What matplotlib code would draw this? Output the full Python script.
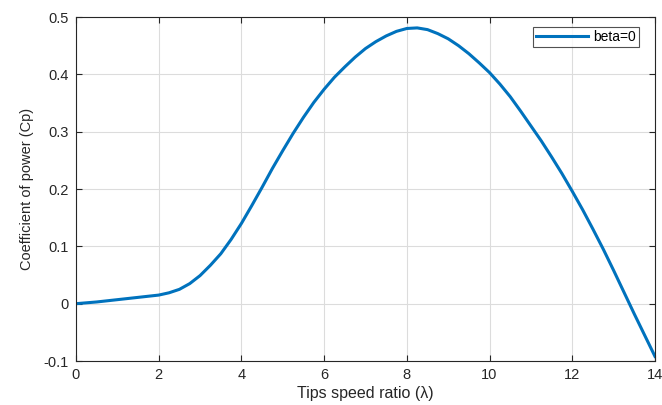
import matplotlib
matplotlib.use("Agg")
import matplotlib.pyplot as plt

plt.rcParams["font.family"] = ["Liberation Sans", "DejaVu Sans"]

# Cp vs tip speed ratio, pitch angle beta = 0
tsr = [0.0, 0.5, 1.0, 1.5, 2.0, 2.25, 2.5, 2.75, 3.0, 3.25, 3.5, 3.75,
       4.0, 4.25, 4.5, 4.75, 5.0, 5.25, 5.5, 5.75, 6.0, 6.25, 6.5, 6.75,
       7.0, 7.25, 7.5, 7.75, 8.0, 8.25, 8.5, 8.75, 9.0, 9.25, 9.5, 9.75,
       10.0, 10.25, 10.5, 10.75, 11.0, 11.25, 11.5, 11.75, 12.0, 12.25,
       12.5, 12.75, 13.0, 13.25, 13.5, 13.75, 14.0]
cp = [0.000, 0.003, 0.007, 0.011, 0.015, 0.019, 0.025, 0.035, 0.049, 0.067,
      0.087, 0.112, 0.140, 0.171, 0.203, 0.236, 0.267, 0.297, 0.325, 0.351,
      0.374, 0.395, 0.413, 0.430, 0.445, 0.457, 0.467, 0.475, 0.480, 0.481,
      0.478, 0.471, 0.462, 0.450, 0.436, 0.420, 0.403, 0.383, 0.361, 0.336,
      0.310, 0.284, 0.256, 0.227, 0.196, 0.164, 0.130, 0.095, 0.058, 0.020,
      -0.018, -0.055, -0.092]

xticks = [0, 2, 4, 6, 8, 10, 12, 14]
yticks = [-0.1, 0, 0.1, 0.2, 0.3, 0.4, 0.5]
ytick_labels = ["-0.1", "0", "0.1", "0.2", "0.3", "0.4", "0.5"]

AXCOL = "#262626"
LINECOL = "#0072BD"

fig = plt.figure(figsize=(6.62, 4.05), dpi=100)
ax = fig.add_axes([0.1148, 0.1086, 0.8746, 0.8494])

ax.plot(tsr, cp, color=LINECOL, lw=2.2, label="beta=0",
        solid_joinstyle="round")

ax.set_xlim(0, 14)
ax.set_ylim(-0.1, 0.5)
ax.set_xticks(xticks)
ax.set_yticks(yticks)
ax.set_yticklabels(ytick_labels)

ax.grid(True, color="#dcdcdc", lw=0.8)
ax.set_axisbelow(True)
ax.tick_params(direction="in", top=True, right=True, length=4,
               colors=AXCOL, labelsize=10.5, width=0.8, pad=5)
for sp in ax.spines.values():
    sp.set_color(AXCOL)
    sp.set_linewidth(0.8)

ax.set_xlabel("Tips speed ratio (λ)", fontsize=11.5, color=AXCOL, labelpad=3)
ax.set_ylabel("Coefficient of power (Cp)", fontsize=10.5, color=AXCOL, labelpad=7)

leg = ax.legend(loc="upper right", bbox_to_anchor=(0.972, 0.971), fontsize=10,
                frameon=True, fancybox=False, handlelength=3.8,
                handletextpad=0.35, borderpad=0.2, borderaxespad=0)
leg.get_frame().set_edgecolor(AXCOL)
leg.get_frame().set_linewidth(0.8)

fig.savefig("out.png", dpi=100)
